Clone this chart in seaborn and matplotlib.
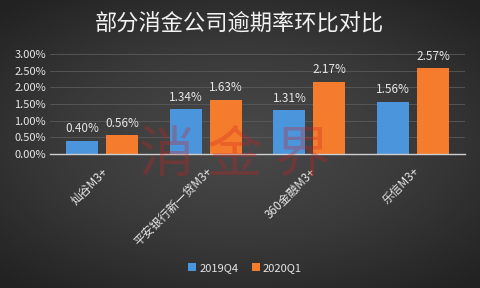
import numpy as np
import pandas as pd
import matplotlib
matplotlib.use("Agg")
import matplotlib.pyplot as plt
import seaborn as sns

title = "部分消金公司逾期率环比对比"
categories = ["灿谷M3+", "平安银行新一贷M3+", "360金融M3+", "乐信M3+"]
series_names = ["2019Q4", "2020Q1"]
values_2019q4 = [0.40, 1.34, 1.31, 1.56]
values_2020q1 = [0.56, 1.63, 2.17, 2.57]
y_ticks = [0.0, 0.5, 1.0, 1.5, 2.0, 2.5, 3.0]
watermark = "消 金 界"

sns.set_theme(style="dark")
plt.rcParams['font.family'] = ['Noto Sans CJK SC', 'DejaVu Sans']

df = pd.DataFrame({
    "cat": categories * 2,
    "series": [series_names[0]] * 4 + [series_names[1]] * 4,
    "val": values_2019q4 + values_2020q1,
})

fig = plt.figure(figsize=(4.8, 2.88), dpi=100)
# background radial gradient
bg = fig.add_axes([0, 0, 1, 1])
yy, xx = np.mgrid[-1:1:288j, -1:1:480j]
r = np.sqrt(xx**2 * 0.8 + yy**2)
bg.imshow(r, cmap=matplotlib.colors.LinearSegmentedColormap.from_list("g", ["#4a4a4a", "#3a3a3a", "#222222"]),
          extent=[0, 1, 0, 1], aspect="auto", vmin=0, vmax=1.3)
bg.axis("off")

ax = fig.add_axes([50/480, 1 - 154/288, 415/480, 100/288])
ax.set_facecolor("none")
palette = {"2019Q4": "#4a95dc", "2020Q1": "#f47c2c"}
sns.barplot(data=df, x="cat", y="val", hue="series", palette=palette, width=0.77, gap=0.2,
            ax=ax, saturation=1, legend=True, linewidth=0, edgecolor="none")

ax.set_ylim(0, 3.0)
ax.set_xlim(-0.5, 3.5)
ax.set_yticks(y_ticks)
ax.set_yticklabels([f"{t:.2f}%" for t in y_ticks], color="#e6e6e6", fontsize=8)
ax.set_xticks(range(len(categories)))
ax.set_xticklabels(categories, rotation=45, ha="right", rotation_mode="anchor",
                   color="#e6e6e6", fontsize=8.5)
ax.tick_params(axis="both", length=0, pad=3)
ax.tick_params(axis="x", pad=8)
ax.set_xlabel("")
ax.set_ylabel("")
ax.grid(axis="y", color="#5a5a5a", linewidth=0.6)
ax.set_axisbelow(True)
for s in ["top", "right", "left"]:
    ax.spines[s].set_visible(False)
ax.spines["bottom"].set_color("#cfcfcf")
ax.spines["bottom"].set_linewidth(1.0)

for cont in ax.containers:
    ax.bar_label(cont, labels=[f"{v:.2f}%" for v in cont.datavalues], padding=4,
                 color="#e6e6e6", fontsize=8.5)

leg = ax.legend(loc="center", bbox_to_anchor=(0.47, -1.14), ncol=2, frameon=False,
                fontsize=8, handlelength=0.7, handleheight=0.7, handletextpad=0.3,
                columnspacing=1.2)
for t in leg.get_texts():
    t.set_color("#e6e6e6")

fig.text(0.5, 0.915, title, ha="center", va="center", color="#f2f2f2", fontsize=16)
fig.text(0.49, 1 - 156/288, watermark, ha="center", va="center", color="#d02020",
         alpha=0.3, fontsize=40, zorder=10)

fig.savefig("out.png", dpi=100)
